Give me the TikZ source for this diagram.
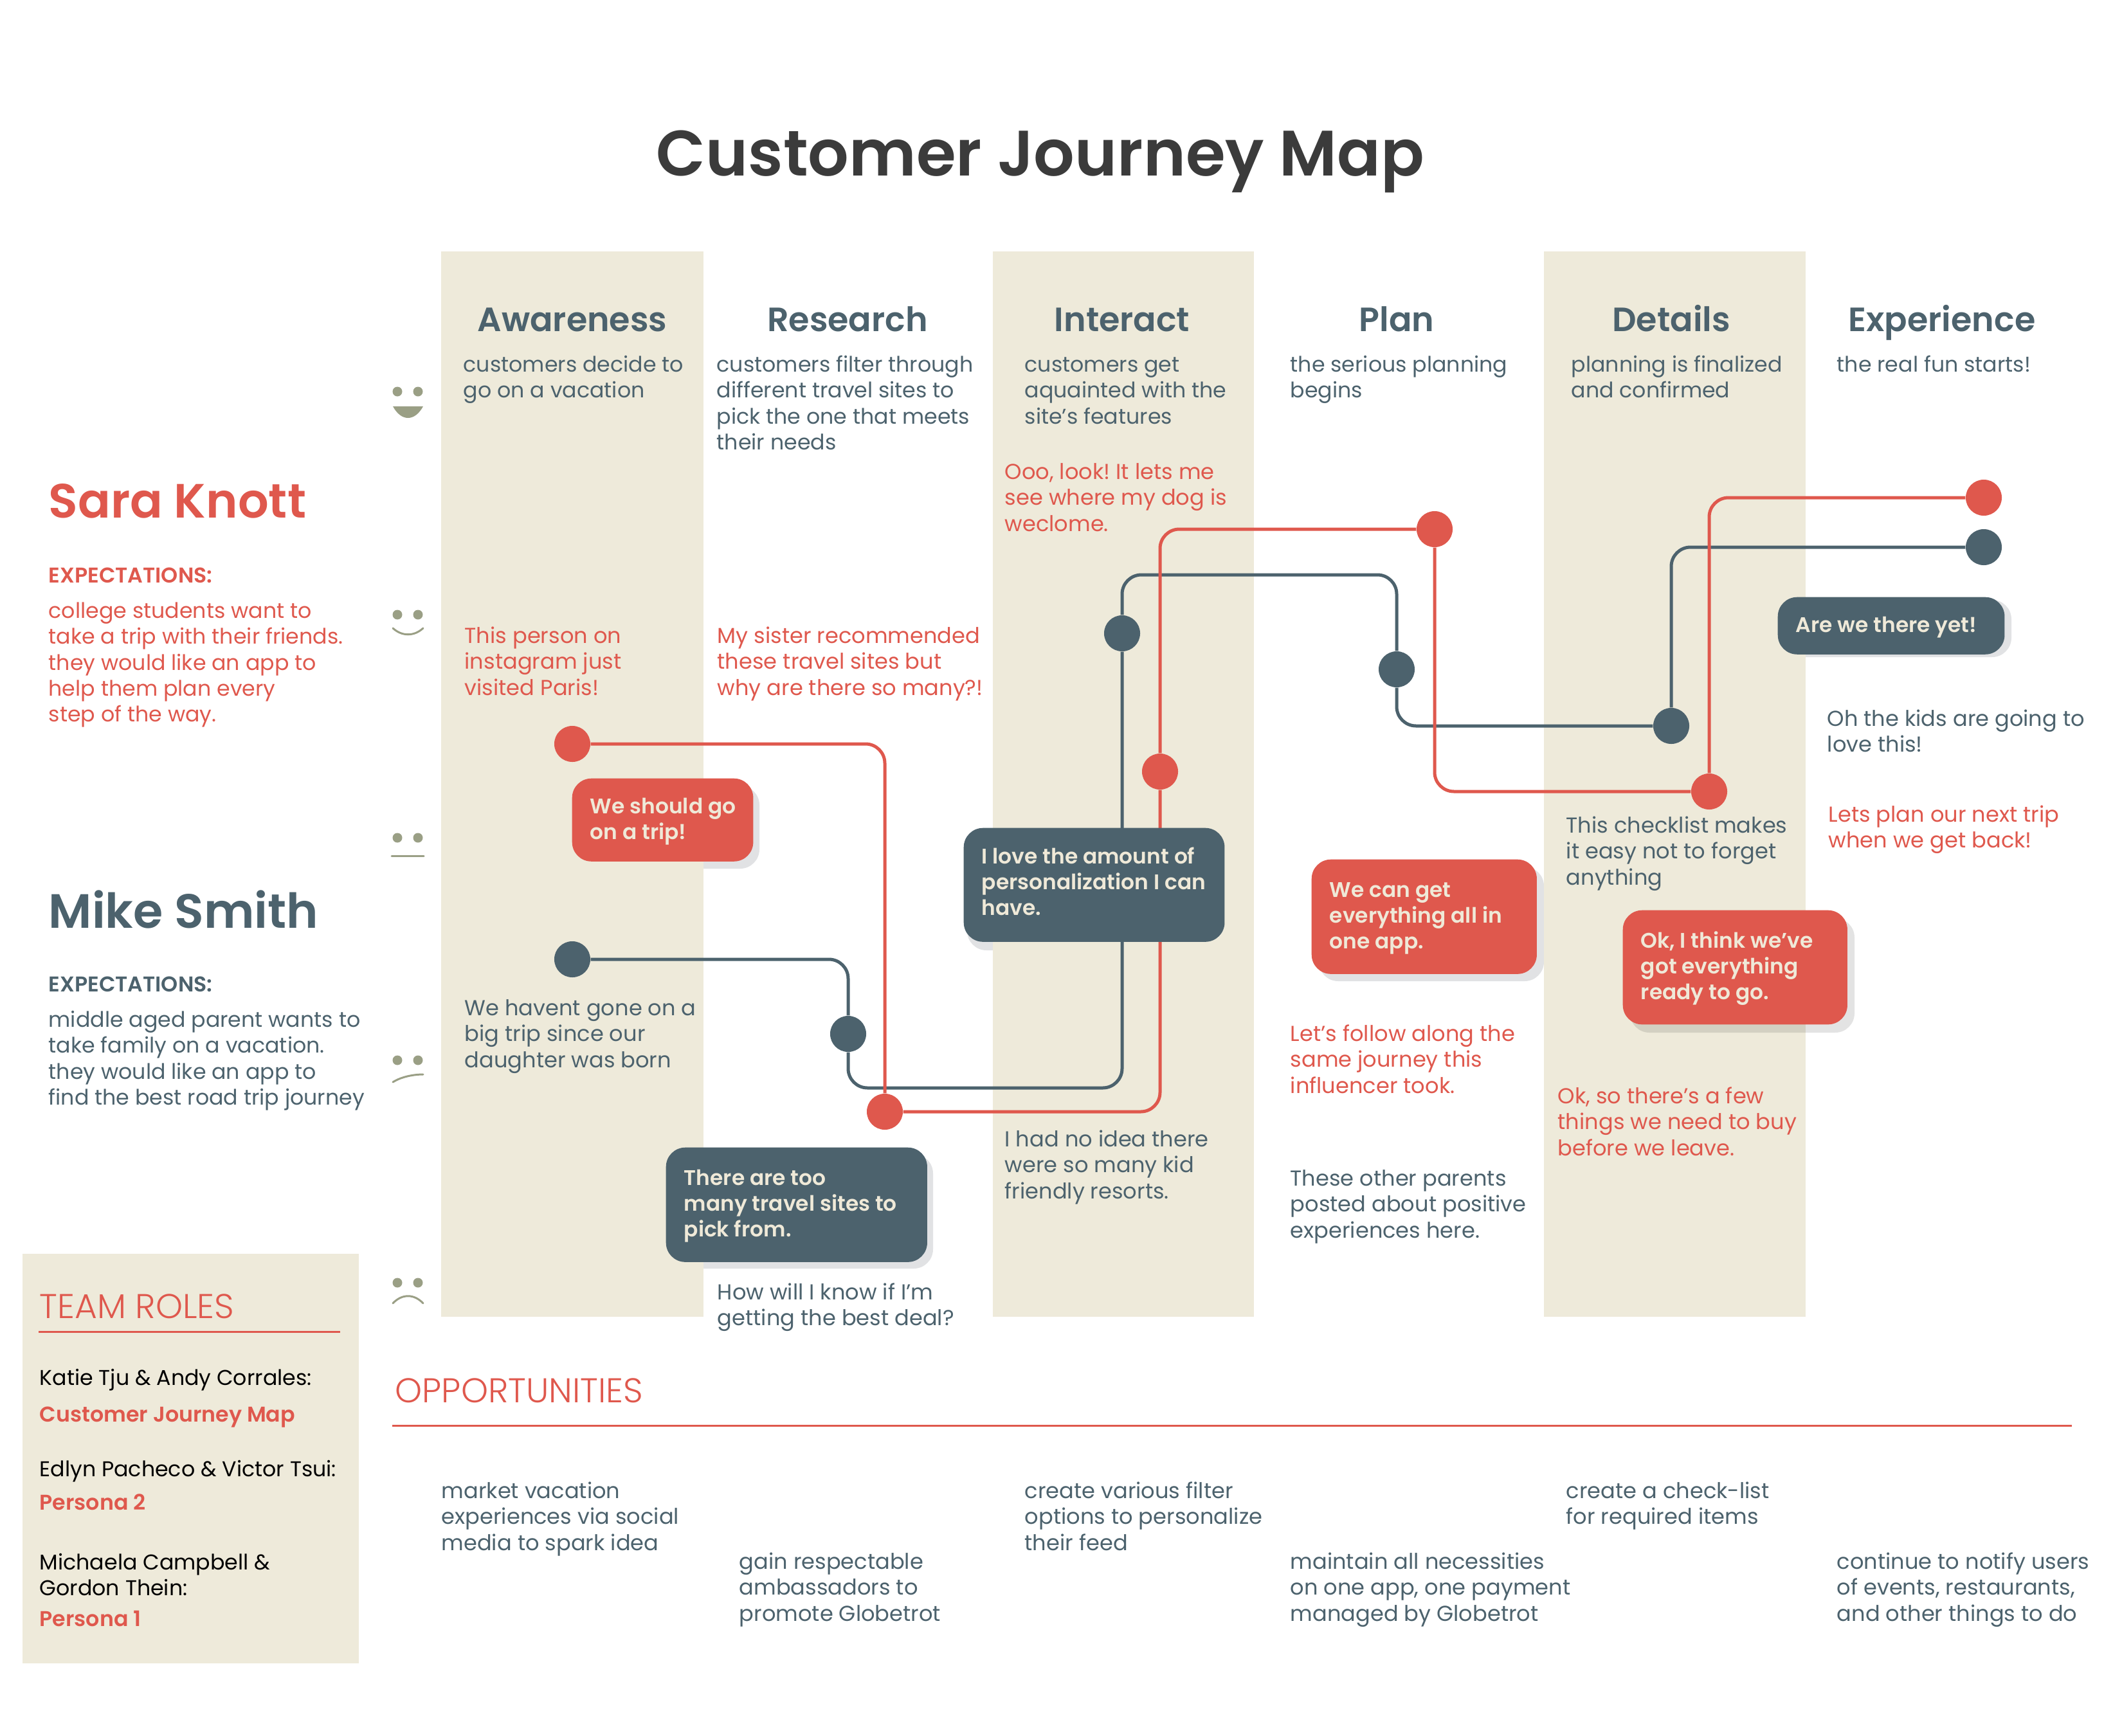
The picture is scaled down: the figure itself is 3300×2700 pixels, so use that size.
\documentclass[tikz,border=0pt]{standalone}
\usepackage{fontspec}
\setmainfont{Poppins}
\newfontfamily\popsemi{Poppins SemiBold}
\newfontfamily\poplight{Poppins Light}
\usepackage{xcolor}
\usetikzlibrary{positioning}
\definecolor{mapblue}{HTML}{4C626D}
\definecolor{mapred}{HTML}{DF584D}
\definecolor{mapband}{HTML}{EEEADA}
\definecolor{mapface}{HTML}{9A9F85}
\definecolor{mapshadow}{HTML}{E1E2E4}
\definecolor{mapcream}{HTML}{EFE9D8}
\definecolor{maptitle}{HTML}{3B3B3B}
\frenchspacing
\newcommand{\notefont}{\fontsize{9.45}{11.4}\selectfont}
\newcommand{\thoughtfont}{\fontsize{9.57}{11.4}\selectfont}
\tikzset{
  notetext/.style={anchor=north west, inner sep=0pt, text width=8cm, align=flush left, yshift=0.23cm, font=\notefont,
    execute at begin node=\rule{0pt}{10pt}},
  bluenote/.style={notetext, text=mapblue},
  rednote/.style={notetext, text=mapred},
  blacknote/.style={notetext, text=black},
  redstrong/.style={notetext, text=mapred, font=\notefont\popsemi},
  thought/.style={font=\thoughtfont},
  stagehead/.style={anchor=base, inner sep=0pt, text=mapblue, font=\fontsize{14.9}{18}\selectfont\popsemi},
  personname/.style={anchor=west, inner sep=0pt, font=\fontsize{21.3}{26}\selectfont\popsemi},
  sectionhead/.style={anchor=west, inner sep=0pt, text=mapred, font=\fontsize{15.2}{18}\selectfont\poplight},
  stagedot/.style={circle, inner sep=0pt, minimum size=0.56cm},
  reddot/.style={stagedot, fill=mapred},
  bluedot/.style={stagedot, fill=mapblue},
  redwire/.style={draw=mapred, line width=0.05cm, rounded corners=0.3cm},
  bluewire/.style={draw=mapblue, line width=0.05cm, rounded corners=0.3cm},
  bubblebox/.style 2 args={anchor=north west, inner xsep=0.28cm, inner ysep=0pt, rounded corners=0.3cm,
    align=flush left, text=mapcream, font=\fontsize{9.35}{11.4}\selectfont\popsemi, text width=#1cm-0.56cm, minimum height=#2cm,
    execute at begin node={\rightskip=-0.25cm plus 1fil\relax\rule{0pt}{8.2pt}}},
  facemark/.style={draw=mapface, line width=0.03cm, line cap=round},
}
\begin{document}
\begin{tikzpicture}[x=0.01cm, y=-0.01cm]
  \useasboundingbox (0,0) rectangle (3300,2700);
  % bubble shadows under the bands
  \fill[mapshadow, rounded corners=0.3cm] (900,1222) rectangle (1181,1351);
  \fill[mapshadow, rounded corners=0.3cm] (1504,1301) rectangle (1909,1478);
  \fill[mapshadow, rounded corners=0.3cm] (1045,1795) rectangle (1451,1973);
  \fill[mapshadow, rounded corners=0.3cm] (2051,1348) rectangle (2401,1526);
  \fill[mapshadow, rounded corners=0.3cm] (2776,933) rectangle (3128,1022);
  % bands
  \foreach \k/\left/\right in {1/686/1094,2/1544/1950,3/2401/2808}
    \fill[mapband] (\left,391) rectangle (\right,2048);
  \fill[black, fill opacity=0.11, rounded corners=0.3cm] (2535,1428) rectangle (2884,1606);
  % title
  \node[anchor=base, inner sep=0pt, text=maptitle, font=\fontsize{28.4}{34}\selectfont\popsemi] (title) at (1618,274) {Customer Journey Map};
  % stage heads
  \foreach \n/\k/\v in {awareness/890/Awareness,research/1318/Research,interact/1745/Interact,plan/2172/Plan,details/2599/Details,experience/3020/Experience}
    \node[stagehead] (\n) at (\k,515) {\v};
  % stage descriptions
  \node[bluenote] (awaredesc) at (720,566) {customers decide to\\go on a vacation};
  \node[bluenote] (researchdesc) at (1114,566) {customers filter through\\different travel sites to\\pick the one that meets\\their needs};
  \node[bluenote] (interactdesc) at (1593,566) {customers get\\aquainted with the\\site’s features};
  \node[bluenote] (plandesc) at (2006,566) {the serious planning\\begins};
  \node[bluenote] (detailsdesc) at (2443,566) {planning is finalized\\and confirmed};
  \node[bluenote] (expdesc) at (2856,566) {the real fun starts!};
  % faces
  \foreach \k/\y in {1/609,2/956,3/1303,4/1649,5/1995} {
    \fill[mapface] (618,\y) circle (0.075cm);
    \fill[mapface] (650,\y) circle (0.075cm);
  }
  \fill[mapface] (611,632) -- (658,632) .. controls (645,656) and (624,656) .. (611,632) -- cycle;
  \draw[facemark] (611,977) .. controls (625,990) and (644,990) .. (658,977);
  \draw[facemark] (609,1331) -- (659,1331);
  \draw[facemark] (611,1683) .. controls (625,1674) and (645,1671) .. (658,1671);
  \draw[facemark] (611,2027) .. controls (625,2012) and (644,2012) .. (658,2027);
  % personas
  \node[personname, text=mapred] (sara) at (75,779) {Sara Knott};
  \node[redstrong] (saraexp) at (75,894) {EXPECTATIONS:};
  \node[rednote] (saratext) at (75,949) {college students want to\\take a trip with their friends.\\they would like an app to\\help them plan every\\step of the way.};
  \node[personname, text=mapblue] (mike) at (75,1414) {Mike Smith};
  \node[bluenote, font=\notefont\popsemi] (mikeexp) at (75,1530) {EXPECTATIONS:};
  \node[bluenote] (miketext) at (75,1585) {middle aged parent wants to\\take family on a vacation.\\they would like an app to\\find the best road trip journey};
  % journey dots
  \node[reddot] (reda) at (890,1157) {};
  \node[reddot] (redb) at (1376,1729) {};
  \node[reddot] (redc) at (1804,1200) {};
  \node[reddot] (redd) at (2231,823) {};
  \node[reddot] (rede) at (2658,1231) {};
  \node[reddot] (redf) at (3085,774) {};
  \node[bluedot] (bluea) at (890,1492) {};
  \node[bluedot] (blueb) at (1319,1608) {};
  \node[bluedot] (bluec) at (1745,985) {};
  \node[bluedot] (blued) at (2172,1041) {};
  \node[bluedot] (bluee) at (2599,1129) {};
  \node[bluedot] (bluef) at (3085,851) {};
  \coordinate (bluelow) at (1530,1692);
  \coordinate (bluetop) at (1950,894);
  % journey wires
  \draw[bluewire] (bluea) -| (blueb);
  \draw[bluewire] (blueb) |- (bluelow) -| (bluec);
  \draw[bluewire] (bluec) |- (bluetop) -| (blued);
  \draw[bluewire] (blued) |- (bluee);
  \draw[bluewire] (bluee) |- (bluef);
  \draw[redwire] (reda) -| (redb);
  \draw[redwire] (redb) -| (redc);
  \draw[redwire] (redc) |- (redd);
  \draw[redwire] (redd) |- (rede);
  \draw[redwire] (rede) |- (redf);
  % red thoughts
  \node[rednote, thought] (dogtext) at (1562,733) {Ooo, look! It lets me\\see where my dog is\\weclome.};
  \node[rednote, thought] (paristext) at (722,988) {This person on\\instagram just\\visited Paris!};
  \node[rednote, thought] (sistertext) at (1115,988) {My sister recommended\\these travel sites but\\why are there so many?!};
  \node[rednote, thought] (followtext) at (2006,1607) {Let’s follow along the\\same journey this\\influencer took.};
  \node[rednote, thought] (buytext) at (2422,1704) {Ok, so there’s a few\\things we need to buy\\before we leave.};
  \node[rednote, thought] (nexttext) at (2843,1266) {Lets plan our next trip\\when we get back!};
  % blue thoughts
  \node[bluenote, thought] (havent) at (722,1567) {We havent gone on a\\big trip since our\\daughter was born};
  \node[bluenote, thought] (dealtext) at (1115,2009) {How will I know if I’m\\getting the best deal?};
  \node[bluenote, thought] (kidtext) at (1562,1771) {I had no idea there\\were so many kid\\friendly resorts.};
  \node[bluenote, thought] (parentstext) at (2006,1832) {These other parents\\posted about positive\\experiences here.};
  \node[bluenote, thought] (checktext) at (2435,1283) {This checklist makes\\it easy not to forget\\anything};
  \node[bluenote, thought] (lovetext) at (2841,1117) {Oh the kids are going to\\love this!};
  % bubbles
  \node[bubblebox={2.815}{1.29}, fill=mapred] (tripbubble) at (889,1210) {We should go\\on a trip!};
  \node[bubblebox={4.055}{1.77}, fill=mapblue] (personalbubble) at (1498,1287) {I love the amount of\\personalization I can\\have.\rule[-0.14cm]{0pt}{0pt}};
  \node[bubblebox={4.06}{1.78}, fill=mapblue] (sitesbubble) at (1035,1784) {There are too\\many travel sites to\\pick from.};
  \node[bubblebox={3.5}{1.78}, fill=mapred] (appbubble) at (2039,1336) {We can get\\everything all in\\one app.};
  \node[bubblebox={3.49}{1.775}, fill=mapred] (readybubble) at (2523,1415) {Ok, I think we’ve\\got everything\\ready to go.};
  \node[bubblebox={3.525}{0.89}, fill=mapblue] (yetbubble) at (2764,928) {Are we there yet!};
  % team roles
  \fill[mapband] (35,1950) rectangle (558,2587);
  \node[sectionhead] (teamhead) at (61,2032) {TEAM ROLES};
  \draw[draw=mapred, line width=0.03cm] (60,2071) -- (529,2071);
  \node[blacknote] (teama) at (61,2142) {Katie Tju \& Andy Corrales:};
  \node[redstrong] (rolea) at (61,2199) {Customer Journey Map};
  \node[blacknote] (teamb) at (61,2284) {Edlyn Pacheco \& Victor Tsui:};
  \node[redstrong] (roleb) at (61,2336) {Persona 2};
  \node[blacknote] (teamc) at (61,2429) {Michaela Campbell \&\\Gordon Thein:};
  \node[redstrong] (rolec) at (61,2517) {Persona 1};
  % opportunities
  \node[sectionhead] (opphead) at (614,2163) {OPPORTUNITIES};
  \draw[draw=mapred, line width=0.03cm] (610,2217) -- (3222,2217);
  \node[bluenote, thought] (oppa) at (686,2318) {market vacation\\experiences via social\\media to spark idea};
  \node[bluenote, thought] (oppb) at (1149,2428) {gain respectable\\ambassadors to\\promote Globetrot};
  \node[bluenote, thought] (oppc) at (1593,2318) {create various filter\\options to personalize\\their feed};
  \node[bluenote, thought] (oppd) at (2006,2428) {maintain all necessities\\on one app, one payment\\managed by Globetrot};
  \node[bluenote, thought] (oppe) at (2435,2318) {create a check-list\\for required items};
  \node[bluenote, thought] (oppf) at (2856,2428) {continue to notify users\\of events, restaurants,\\and other things to do};
\end{tikzpicture}
\end{document}
